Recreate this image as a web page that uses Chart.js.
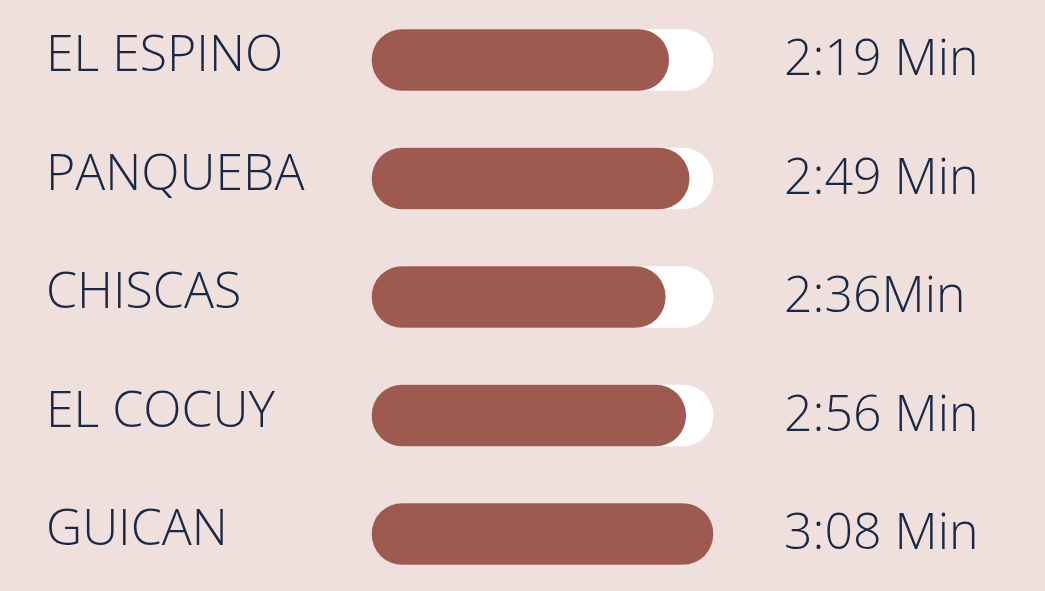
<!DOCTYPE html>
<html>
<head>
<meta charset="utf-8">
<script src="https://cdn.jsdelivr.net/npm/chart.js@4.4.1/dist/chart.umd.min.js"></script>
<style>
  html, body { margin: 0; padding: 0; background: #efe0dd; }
  #wrap { width: 1045px; height: 591px; position: relative; }
</style>
</head>
<body>
<div id="wrap"><canvas id="c"></canvas></div>
<script>
// municipios
var places = ['EL ESPINO', 'PANQUEBA', 'CHISCAS', 'EL COCUY', 'GUICAN'];
// bar fill, percent of the track
var fillPct = [87, 93, 86, 92, 100];
// track, always full
var trackPct = [100, 100, 100, 100, 100];
// text shown on the right
var timeLabels = ['2:19 Min', '2:49 Min', '2:36Min', '2:56 Min', '3:08 Min'];

var textColor = '#182845';
var fontFace = '"Open Sans", "Noto Sans", sans-serif';

// draws the place names and the times next to each bar
var sideText = {
    id: 'sideText',
    afterDatasetsDraw: function (chart) {
        var ctx = chart.ctx;
        var y = chart.scales.y;
        ctx.save();
        ctx.fillStyle = textColor;
        ctx.font = '300 50px ' + fontFace;
        ctx.textBaseline = 'middle';
        ctx.textAlign = 'left';
        for (var i = 0; i < places.length; i++) {
            var py = y.getPixelForValue(i);
            ctx.fillText(places[i], 46, py - 3);
            ctx.fillText(timeLabels[i], 784, py + 1);
        }
        ctx.restore();
    }
};

var chart = new Chart(document.getElementById('c'), {
    type: 'bar',
    data: {
        labels: places,
        datasets: [
            {
                label: 'tiempo',
                data: fillPct,
                backgroundColor: '#9e5a4e',
                borderRadius: 31,
                borderSkipped: false,
                barThickness: 61,
                grouped: false,
                clip: false,
                order: 0
            },
            {
                label: 'pista',
                data: trackPct,
                backgroundColor: '#ffffff',
                borderRadius: 31,
                borderSkipped: false,
                barThickness: 61,
                grouped: false,
                clip: false,
                order: 1
            }
        ]
    },
    options: {
        indexAxis: 'y',
        responsive: true,
        maintainAspectRatio: false,
        animation: false,
        layout: {
            padding: { left: 372, right: 332, top: 60, bottom: 57 }
        },
        scales: {
            x: { display: false, min: 0, max: 100 },
            y: { display: false, offset: false }
        },
        plugins: {
            legend: { display: false },
            tooltip: { enabled: false }
        }
    },
    plugins: [sideText]
});
</script>
</body>
</html>
